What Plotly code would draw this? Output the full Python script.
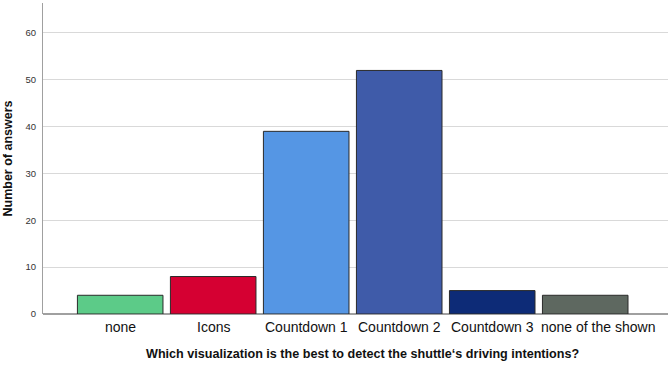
import plotly.graph_objects as go

categories = ["none", "Icons", "Countdown 1", "Countdown 2", "Countdown 3", "none of the shown"]
answers = [4, 8, 39, 52, 5, 4]
colors = ["#5CCB88", "#D50032", "#5596E4", "#3F5BA9", "#0D2B77", "#5E6860"]
label_shift = [0, 0, 0, 0, 0, 13]
y_ticks = [0, 10, 20, 30, 40, 50, 60]
x_title = "Which visualization is the best to detect the shuttle‘s driving intentions?"

fig = go.Figure(go.Bar(
    x=categories, y=answers,
    marker=dict(color=colors, line=dict(color="#2a2a2a", width=1)),
    width=0.92,
))

for cat, sh in zip(categories, label_shift):
    fig.add_annotation(x=cat, y=0, xref="x", yref="y", text=cat, showarrow=False,
                       yanchor="top", yshift=-3, xshift=sh,
                       font=dict(size=14, color="#111"))

fig.add_annotation(x=0.5, y=0, xref="paper", yref="paper", text="<b>" + x_title + "</b>",
                   showarrow=False, yanchor="middle", yshift=-40, xshift=7,
                   font=dict(size=12.6, color="#111"))

fig.update_layout(
    width=671, height=366,
    margin=dict(l=43, r=3, t=3, b=52),
    paper_bgcolor="white", plot_bgcolor="white",
    showlegend=False,
    font=dict(family="Liberation Sans, Arial, sans-serif", color="#111"),
)
fig.update_xaxes(
    range=[-0.83, 5.89], showgrid=False, showline=False, zeroline=False,
    ticks="", showticklabels=False,
    automargin=False,
)
fig.update_yaxes(
    range=[0, 66.4], tickvals=y_ticks, showgrid=True, gridcolor="#D9D9D9", gridwidth=1,
    showline=True, linecolor="#A0A0A0", linewidth=1,
    zeroline=True, zerolinecolor="#A0A0A0", zerolinewidth=1.5,
    ticks="", tickfont=dict(size=9.5, color="#333"), ticklabelstandoff=4,
    title=dict(text="<b>Number of answers</b>", font=dict(size=12.5), standoff=10),
    automargin=False,
)
fig.write_html("out.html", config={"displayModeBar": False},
               post_script="document.body.style.margin='0';")
